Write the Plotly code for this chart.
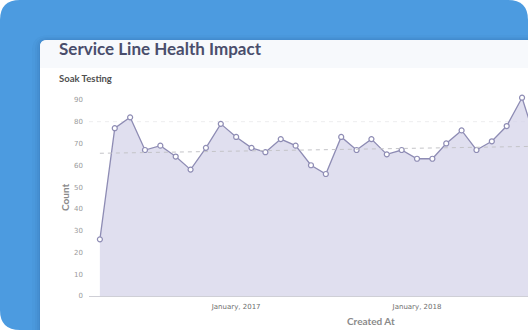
import pandas as pd
import plotly.graph_objects as go

# ---------------- data ----------------
start_month = "2016-04-01"
counts = [26, 77, 82, 67, 69, 64, 58, 68, 79, 73, 68, 66, 72, 69, 60, 56,
          73, 67, 72, 65, 67, 63, 63, 70, 76, 67, 71, 78, 91, 69]
trend_values = [65.5, 68.7]          # trend at first and last month
reference_level = 80
y_ticks = [0, 10, 20, 30, 40, 50, 60, 70, 80, 90]
x_range = ["2016-03-10", "2018-08-13"]
title_text = "Service Line Health Impact"
subtitle_text = "Soak Testing"
x_title = "Created At"
y_title = "Count"

dates = pd.date_range(start_month, periods=len(counts), freq="MS")

# ---------------- geometry helpers ----------------
W, H = 528, 330
ML, MR, MT, MB = 89, 0, 89, 34
PW = W - ML - MR
PH = H - MT - MB


def px(x):
    return (x - ML) / PW


def py(y):
    return (H - MB - y) / PH


def rrect(x0, y0, x1, y1, rtl=0, rtr=0, rbr=0, rbl=0):
    p = [f"M {px(x0 + rtl)},{py(y0)}", f"L {px(x1 - rtr)},{py(y0)}"]
    if rtr:
        p.append(f"Q {px(x1)},{py(y0)} {px(x1)},{py(y0 + rtr)}")
    p.append(f"L {px(x1)},{py(y1 - rbr)}")
    if rbr:
        p.append(f"Q {px(x1)},{py(y1)} {px(x1 - rbr)},{py(y1)}")
    p.append(f"L {px(x0 + rbl)},{py(y1)}")
    if rbl:
        p.append(f"Q {px(x0)},{py(y1)} {px(x0)},{py(y1 - rbl)}")
    p.append(f"L {px(x0)},{py(y0 + rtl)}")
    if rtl:
        p.append(f"Q {px(x0)},{py(y0)} {px(x0 + rtl)},{py(y0)}")
    p.append("Z")
    return " ".join(p)


shapes = []
# blue backdrop
shapes.append(dict(type="path", xref="paper", yref="paper", layer="below",
                   path=rrect(0, 0, 528, 330, 20, 20, 20, 20),
                   fillcolor="#4c9be0", line=dict(width=0)))
# card shadow
for off, op in [(8, 0.03), (5, 0.04), (3, 0.05), (1, 0.06)]:
    shapes.append(dict(type="path", xref="paper", yref="paper", layer="below",
                       path=rrect(40 - off, 40 - off * 0.6, 540, 340, 8 + off, 0, 0, 0),
                       fillcolor=f"rgba(20,50,110,{op})", line=dict(width=0)))
# card
shapes.append(dict(type="path", xref="paper", yref="paper", layer="below",
                   path=rrect(40, 40, 540, 340, 7, 0, 0, 0),
                   fillcolor="#ffffff", line=dict(width=0)))
# header band
shapes.append(dict(type="path", xref="paper", yref="paper", layer="below",
                   path=rrect(40, 40, 540, 68, 7, 0, 0, 0),
                   fillcolor="#f7f9fc", line=dict(width=0)))
# reference level line
shapes.append(dict(type="line", xref="paper", yref="y", layer="below",
                   x0=0, x1=1, y0=reference_level, y1=reference_level,
                   line=dict(color="#ededef", width=1, dash="4px,4px")))

fig = go.Figure()
fig.add_trace(go.Scatter(
    x=dates, y=counts, mode="lines+markers", fill="tozeroy",
    fillcolor="rgba(214,212,234,0.75)",
    line=dict(color="#8e8cb4", width=1.3),
    marker=dict(size=5, color="#ffffff", line=dict(color="#8e8cb4", width=1.2)),
    hoverinfo="x+y", showlegend=False,
))
fig.add_trace(go.Scatter(
    x=[dates[0], dates[-1]], y=trend_values, mode="lines",
    line=dict(color="#c4c4c8", width=1, dash="4px,4px"),
    hoverinfo="skip", showlegend=False,
))

annotations = [
    dict(text=f"<b>{title_text}</b>", xref="paper", yref="paper",
         x=px(57), y=py(48.5), xanchor="left", yanchor="middle", showarrow=False,
         font=dict(family="Lato", size=17, color="#4a4e6c")),
    dict(text=f"<b>{subtitle_text}</b>", xref="paper", yref="paper",
         x=px(57), y=py(78.5), xanchor="left", yanchor="middle", showarrow=False,
         font=dict(family="Lato", size=9.5, color="#505050")),
    dict(text=f"<b>{y_title}</b>", xref="paper", yref="paper",
         x=px(64.5), y=py(197.5), xanchor="center", yanchor="middle", showarrow=False,
         textangle=-90, font=dict(family="Lato", size=10, color="#8a8a8a")),
    dict(text=f"<b>{x_title}</b>", xref="paper", yref="paper",
         x=px(370.5), y=py(320.5), xanchor="center", yanchor="middle", showarrow=False,
         font=dict(family="Lato", size=10, color="#8a8a8a")),
]

fig.update_layout(
    width=W, height=H,
    margin=dict(l=ML, r=MR, t=MT, b=MB, pad=0),
    paper_bgcolor="#ffffff", plot_bgcolor="rgba(0,0,0,0)",
    shapes=shapes, annotations=annotations,
    xaxis=dict(type="date", range=x_range, tickformat="%B, %Y",
               tick0="2017-01-01", dtick="M12", showgrid=False, zeroline=False,
               showline=True, linecolor="#cfcfd6", linewidth=1, ticks="",
               ticklabelstandoff=4,
               tickfont=dict(family="DejaVu Sans", size=7, color="#6e6e6e")),
    yaxis=dict(range=[0, 95], tickvals=y_ticks, showgrid=False, zeroline=False,
               showline=False, ticks="", ticklabelstandoff=5,
               tickfont=dict(family="DejaVu Sans", size=7, color="#9a9a9a")),
)

fig.write_html("out.html")
